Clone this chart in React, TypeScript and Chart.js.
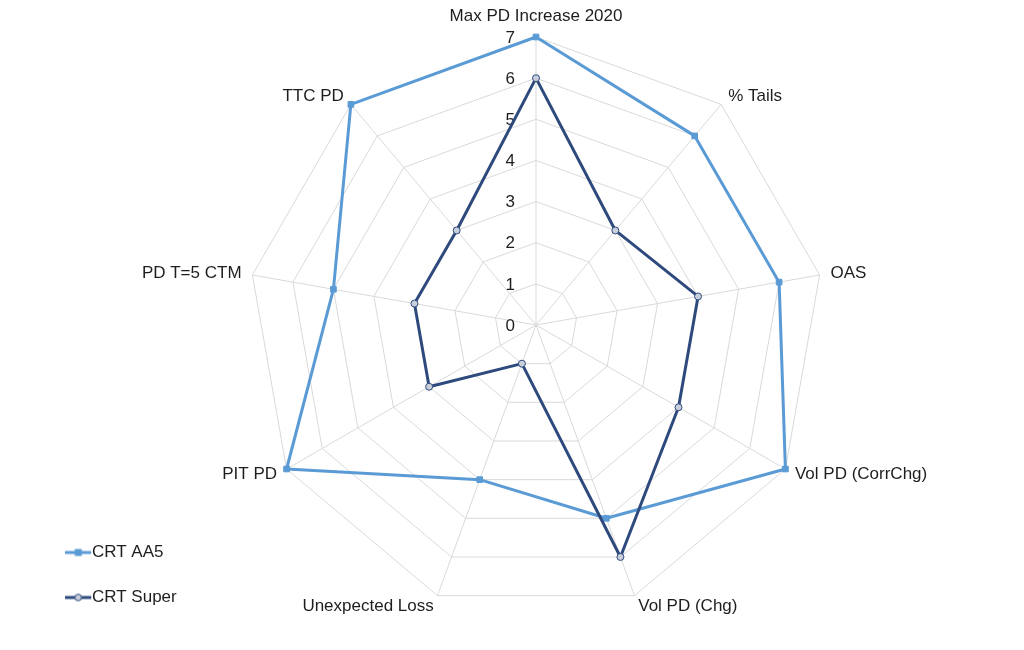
import { useEffect, useRef } from "react";
import { Chart, registerables } from "chart.js";

Chart.register(...registerables);

const categories = [
  "Max PD Increase 2020",
  "% Tails",
  "OAS",
  "Vol PD (CorrChg)",
  "Vol PD (Chg)",
  "Unexpected Loss",
  "PIT PD",
  "PD T=5 CTM",
  "TTC PD",
];
const crtAA5 = [7, 6, 6, 7, 5, 4, 7, 5, 7];
const crtSuper = [6, 3, 4, 4, 6, 1, 3, 3, 3];
const seriesNames = ["CRT AA5", "CRT Super"];
const scaleMin = 0;
const scaleMax = 7;
const scaleStep = 1;

const FONT = "'Liberation Sans', Arial, sans-serif";
const FONT_SIZE = 17;
const TEXT = "#1e1e1e";
const GRID = "#d9d9d9";
const LIGHT = "#5B9BD5";
const DARK = "#2E4A7D";
const DARK_FILL = "#C9CEDB";

function makeLegendIcon(color: string, marker: "rect" | "circle", fill: string) {
  const c = document.createElement("canvas");
  c.width = 32;
  c.height = 12;
  const g = c.getContext("2d")!;
  g.strokeStyle = color;
  g.lineWidth = 3;
  g.beginPath();
  g.moveTo(0, 6);
  g.lineTo(26, 6);
  g.stroke();
  if (marker === "rect") {
    g.fillStyle = color;
    g.fillRect(13 - 3.5, 6 - 3.5, 7, 7);
  } else {
    g.beginPath();
    g.arc(13, 6, 3.3, 0, Math.PI * 2);
    g.fillStyle = fill;
    g.fill();
    g.lineWidth = 1;
    g.strokeStyle = color;
    g.stroke();
  }
  return c;
}

const labelPlugin = {
  id: "radarTextLabels",
  beforeDatasetsDraw(chart: any) {
    const scale = chart.scales.r;
    const ctx = chart.ctx;
    ctx.save();
    ctx.font = `${FONT_SIZE}px ${FONT}`;
    ctx.fillStyle = TEXT;
    ctx.textBaseline = "middle";
    // tick labels, left of the vertical axis
    ctx.textAlign = "right";
    scale.ticks.forEach((t: any) => {
      const d = scale.getDistanceFromCenterForValue(t.value);
      ctx.fillText(String(t.label), scale.xCenter - 21, scale.yCenter - d + 1);
    });
    // category labels
    (chart.data.labels as string[]).forEach((lab, i) => {
      const p = scale.getPointPosition(i, scale.drawingArea + 11);
      const deg = Math.round((scale.getIndexAngle(i) * 180) / Math.PI) % 360;
      ctx.textAlign = deg === 0 || deg === 180 ? "center" : deg < 180 ? "left" : "right";
      const dy = deg === 0 ? -10 : 0;
      ctx.fillText(lab, p.x, p.y + dy);
    });
    ctx.restore();
  },
};

export default function App() {
  const ref = useRef<HTMLCanvasElement | null>(null);

  useEffect(() => {
    if (!ref.current) return;
    const icons = [
      makeLegendIcon(LIGHT, "rect", LIGHT),
      makeLegendIcon(DARK, "circle", DARK_FILL),
    ];
    const chart = new Chart(ref.current, {
      type: "radar",
      data: {
        labels: categories,
        datasets: [
          {
            label: seriesNames[0],
            data: crtAA5,
            borderColor: LIGHT,
            backgroundColor: LIGHT,
            borderWidth: 3,
            borderJoinStyle: "round",
            fill: false,
            pointStyle: "rect",
            pointRadius: 4,
            pointBackgroundColor: LIGHT,
            pointBorderColor: LIGHT,
            pointBorderWidth: 1,
            order: 1,
          },
          {
            label: seriesNames[1],
            data: crtSuper,
            borderColor: DARK,
            backgroundColor: DARK_FILL,
            borderWidth: 3,
            borderJoinStyle: "round",
            fill: false,
            pointStyle: "circle",
            pointRadius: 3.5,
            pointBackgroundColor: DARK_FILL,
            pointBorderColor: DARK,
            pointBorderWidth: 1,
            order: 0,
          },
        ],
      },
      options: {
        responsive: false,
        animation: false,
        layout: { padding: { left: 51, right: 137, top: 16, bottom: 16 } },
        plugins: {
          tooltip: { enabled: false },
          legend: {
            position: "left",
            align: "end",
            labels: {
              usePointStyle: true,
              pointStyleWidth: 4.5,
              padding: 28,
              color: TEXT,
              font: { size: FONT_SIZE, family: FONT },
              generateLabels: (c: any) =>
                c.data.datasets.map((ds: any, i: number) => ({
                  text: ds.label,
                  fillStyle: ds.borderColor,
                  strokeStyle: ds.borderColor,
                  lineWidth: 0,
                  pointStyle: icons[i],
                  hidden: false,
                  datasetIndex: i,
                  fontColor: TEXT,
                })),
            },
          },
        },
        scales: {
          r: {
            min: scaleMin,
            max: scaleMax,
            ticks: {
              stepSize: scaleStep,
              display: true,
              color: "rgba(0,0,0,0)",
              showLabelBackdrop: false,
              backdropPadding: 12.5,
              font: { size: FONT_SIZE, family: FONT },
            },
            pointLabels: { display: false },
            grid: { color: GRID, lineWidth: 1 },
            angleLines: { color: GRID, lineWidth: 1 },
          },
        },
      },
      plugins: [labelPlugin],
    });
    return () => chart.destroy();
  }, []);

  return (
    <div style={{ position: "absolute", left: 0, top: 0, width: 1024, height: 650, background: "#fff" }}>
      <canvas ref={ref} width={1024} height={650} style={{ display: "block" }} />
    </div>
  );
}
